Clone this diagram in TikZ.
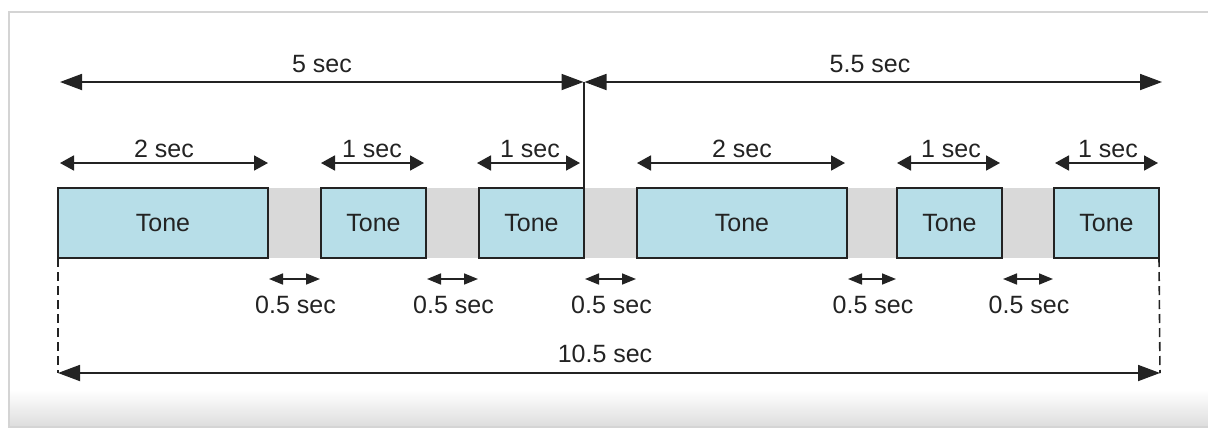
\documentclass[tikz,border=0pt]{standalone}
\usepackage{fontspec}
\setmainfont{Liberation Sans}
\usetikzlibrary{arrows.meta}
\definecolor{toneblue}{RGB}{183,222,232}
\definecolor{gapgray}{RGB}{217,217,217}
\definecolor{ink}{RGB}{35,35,35}
\definecolor{framegray}{RGB}{212,212,212}
\begin{document}
\begin{tikzpicture}[x=1pt,y=-1pt,
  tone/.style={draw=ink, line width=1.5pt, fill=toneblue, minimum height=70pt,
    inner sep=0pt, outer sep=0pt, anchor=north west, text=ink, font=\fontsize{25}{30}\selectfont},
  lbl/.style={text=ink, font=\fontsize{25}{30}\selectfont, inner sep=0pt},
  bigdim/.style={draw=ink, line width=1.8pt,
    {Triangle[length=22pt,width=16pt]}-{Triangle[length=22pt,width=16pt]}},
  middim/.style={draw=ink, line width=1.8pt,
    {Triangle[length=14pt,width=15pt]}-{Triangle[length=14pt,width=15pt]}},
  smalldim/.style={draw=ink, line width=1.7pt,
    {Triangle[length=14pt,width=11pt]}-{Triangle[length=14pt,width=11pt]}},
  guide/.style={draw=ink, line width=1.5pt},
  dashguide/.style={draw=ink, line width=1.6pt, dash pattern=on 9pt off 5pt}]
\useasboundingbox (0,0) rectangle (1208,429);
% frame
\fill[white] (0,0) rectangle (1208,429);
\shade[top color=white, bottom color=framegray!80] (9,390) rectangle (1208,427);
\draw[framegray, line width=1.5pt] (1210,12) -- (9,12) -- (9,427) -- (1210,427);
% gaps
\foreach \a/\b in {268/321, 426/479, 584/637, 847/897, 1002/1054}
  \fill[gapgray] (\a,188) rectangle (\b,258);
% tones
\node[tone, minimum width=210pt] (t1) at (58,188) {Tone};
\node[tone, minimum width=105pt] (t2) at (321,188) {Tone};
\node[tone, minimum width=105pt] (t3) at (479,188) {Tone};
\node[tone, minimum width=210pt] (t4) at (637,188) {Tone};
\node[tone, minimum width=105pt] (t5) at (897,188) {Tone};
\node[tone, minimum width=105pt] (t6) at (1054,188) {Tone};
% coordinates
\coordinate (topL) at (60,82);
\coordinate (topM) at (t3.north east |- 0,82);
\coordinate (topR) at (1162,82);
\coordinate (botL) at (58,373);
\coordinate (botR) at (1160,373);
% top dimension
\draw[guide] (topM) -- (t3.north east);
\draw[bigdim] (topL) -- ([xshift=-0.5pt]topM);
\draw[bigdim] ([xshift=0.5pt]topM) -- (topR);
\node[lbl, anchor=base] (l5) at (322,72) {5 sec};
\node[lbl, anchor=base] (l55) at (870,72) {5.5 sec};
% second row dims
\draw[middim] (60,163) -- (268,163);
\draw[middim] (321,163) -- (424,163);
\draw[middim] (477,163) -- (580,163);
\draw[middim] (637,163) -- (845,163);
\draw[middim] (897,163) -- (1000,163);
\draw[middim] (1055,163) -- (1158,163);
\node[lbl, anchor=base] at (164,157) {2 sec};
\node[lbl, anchor=base] at (372,157) {1 sec};
\node[lbl, anchor=base] at (530,157) {1 sec};
\node[lbl, anchor=base] at (742,157) {2 sec};
\node[lbl, anchor=base] at (951,157) {1 sec};
\node[lbl, anchor=base] at (1108,157) {1 sec};
% gap dims
\foreach \a/\b in {269/320, 427/478, 585/636, 848/896, 1003/1053}{
  \draw[smalldim] (\a,279) -- (\b,279);
  \node[lbl, anchor=base] at ({(\a+\b)/2+1},313) {0.5 sec};
}
% bottom dimension
\draw[dashguide] (t1.south west) -- (botL);
\draw[dashguide] (t6.south east) -- (botR);
\draw[bigdim] (botL) -- (botR);
\node[lbl, anchor=base] (l105) at (605,362) {10.5 sec};
\end{tikzpicture}
\end{document}
